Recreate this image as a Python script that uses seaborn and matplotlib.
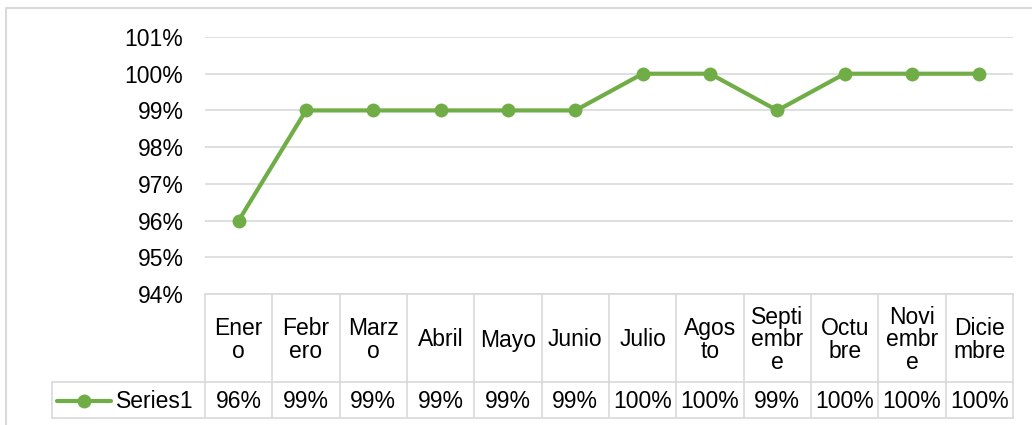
import pandas as pd
import seaborn as sns
import matplotlib.pyplot as plt
from matplotlib.ticker import PercentFormatter

# Data
months = ["Enero", "Febrero", "Marzo", "Abril", "Mayo", "Junio",
          "Julio", "Agosto", "Septiembre", "Octubre", "Noviembre", "Diciembre"]
header_labels = ["Ener\no", "Febr\nero", "Marz\no", "Abril", "Mayo", "Junio",
                 "Julio", "Agos\nto", "Septi\nembr\ne", "Octu\nbre", "Novi\nembr\ne", "Dicie\nmbre"]
values = [0.96, 0.99, 0.99, 0.99, 0.99, 0.99, 1.00, 1.00, 0.99, 1.00, 1.00, 1.00]
series_name = "Series1"

df = pd.DataFrame({"pos": range(len(months)), "mes": months, "valor": values})

green = "#70AD47"
grid_c = "#D9D9D9"
font = ["Liberation Sans", "DejaVu Sans"]
fs = 16.5

sns.set_style("white")
plt.rcParams["font.family"] = font

W, H = 1032, 425
fig = plt.figure(figsize=(W / 100, H / 100), dpi=100)

# pixel helpers
def box(x0, y0, x1, y1):
    return [x0 / W, 1 - y1 / H, (x1 - x0) / W, (y1 - y0) / H]

# outer chart border
border = fig.add_axes([0, 0, 1, 1], zorder=-1)
border.set_xlim(0, W)
border.set_ylim(H, 0)
border.axis("off")
border.plot([6, 6, W], [H, 8, 8], color=grid_c, lw=1.5)

# plot area
ax = fig.add_axes(box(205, 37, 1013, 294))
sns.lineplot(data=df, x="pos", y="valor", ax=ax, color=green, lw=3,
             marker="o", markersize=10, markeredgewidth=0, clip_on=False)
ax.set_xlim(-0.5, len(months) - 0.5)
ax.set_ylim(0.94, 1.01)
ax.set_yticks([0.94, 0.95, 0.96, 0.97, 0.98, 0.99, 1.00, 1.01])
ax.yaxis.set_major_formatter(PercentFormatter(1.0, decimals=0))
ax.grid(axis="y", color=grid_c, lw=1.2)
ax.set_xticks([])
ax.set_xlabel("")
ax.set_ylabel("")
for s in ax.spines.values():
    s.set_visible(False)
ax.tick_params(axis="y", length=0, pad=15.5, labelsize=fs, labelcolor="#000000")

# data table below the plot
x_left = 52
col_w = (1013 - 205) / len(months)
tab = fig.add_axes(box(x_left, 294, 1013, 418))
tab.set_xlim(-0.5 - (205 - x_left) / col_w, len(months) - 0.5)
tab.set_ylim(418, 294)
tab.axis("off")

lw = 1.2
tab.plot([-0.5, len(months) - 0.5], [294, 294], color=grid_c, lw=lw, clip_on=False)
for yy in (382, 418):
    tab.plot([tab.get_xlim()[0], len(months) - 0.5], [yy, yy], color=grid_c, lw=lw, clip_on=False)
for i in range(len(months) + 1):
    tab.plot([i - 0.5, i - 0.5], [294, 418], color=grid_c, lw=lw, clip_on=False)
tab.plot([tab.get_xlim()[0]] * 2, [382, 418], color=grid_c, lw=lw, clip_on=False)

for i, (lab, v) in enumerate(zip(header_labels, values)):
    tab.text(i, 340, lab, ha="center", va="center", fontsize=fs,
             linespacing=0.95, color="#000000")
    tab.text(i, 401, f"{v:.0%}", ha="center", va="center", fontsize=fs, color="#000000")

# legend key inside the table
lx0 = tab.get_xlim()[0] + 5 / col_w
lx1 = lx0 + 54 / col_w
tab.plot([lx0, lx1], [401, 401], color=green, lw=3, clip_on=False)
tab.plot([(lx0 + lx1) / 2], [401], "o", color=green, markersize=10, markeredgewidth=0, clip_on=False)
tab.text(lx1 + 5 / col_w, 401, series_name, ha="left", va="center", fontsize=fs, color="#000000")

fig.savefig("out.png", dpi=100)
